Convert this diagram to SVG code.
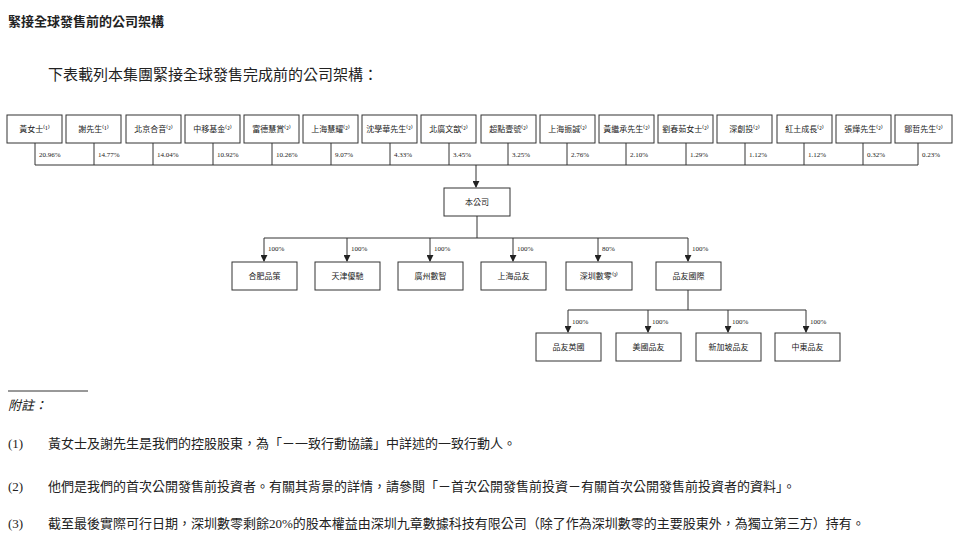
<svg xmlns="http://www.w3.org/2000/svg" width="960" height="553" viewBox="0 0 960 553">
<style>
text{font-family:"Liberation Serif","Noto Sans CJK TC",serif;fill:#222}
.b{fill:#fff;stroke:#333;stroke-width:1}
.t{font-size:8px;text-anchor:middle}
.p{font-size:7px}
.c{stroke:#333;stroke-width:1;fill:none}
.ar{stroke:#333;stroke-width:1;marker-end:url(#a)}
.n{font-size:13px}
</style>
<defs><marker id="a" viewBox="0 0 8 8" refX="7" refY="4" markerWidth="7" markerHeight="7" orient="auto"><path d="M0,0L8,4L0,8z" fill="#222"/></marker></defs>
<rect width="960" height="553" fill="#fff"/>
<text x="8" y="26" font-size="13" font-weight="bold">緊接全球發售前的公司架構</text>
<text x="48" y="80" font-size="15">下表載列本集團緊接全球發售完成前的公司架構：</text>
<g id="shareholders">
<g id="s1"><rect class="b" x="7" y="115" width="55" height="28"/><text class="t" x="34.5" y="132">黃女士⁽¹⁾</text></g>
<g id="s2"><rect class="b" x="66" y="115" width="55" height="28"/><text class="t" x="93.5" y="132">謝先生⁽¹⁾</text></g>
<g id="s3"><rect class="b" x="126" y="115" width="55" height="28"/><text class="t" x="153.5" y="132">北京合音⁽²⁾</text></g>
<g id="s4"><rect class="b" x="185" y="115" width="55" height="28"/><text class="t" x="212.5" y="132">中移基金⁽²⁾</text></g>
<g id="s5"><rect class="b" x="244" y="115" width="55" height="28"/><text class="t" x="271.5" y="132">富德慧賞⁽²⁾</text></g>
<g id="s6"><rect class="b" x="303" y="115" width="55" height="28"/><text class="t" x="330.5" y="132">上海慧耀⁽²⁾</text></g>
<g id="s7"><rect class="b" x="362" y="115" width="55" height="28"/><text class="t" x="389.5" y="132">沈學華先生⁽²⁾</text></g>
<g id="s8"><rect class="b" x="421" y="115" width="55" height="28"/><text class="t" x="448.5" y="132">北廣文歆⁽²⁾</text></g>
<g id="s9"><rect class="b" x="481" y="115" width="55" height="28"/><text class="t" x="508.5" y="132">超點壹號⁽²⁾</text></g>
<g id="s10"><rect class="b" x="540" y="115" width="55" height="28"/><text class="t" x="567.5" y="132">上海振誠⁽²⁾</text></g>
<g id="s11"><rect class="b" x="599" y="115" width="55" height="28"/><text class="t" x="626.5" y="132">黃繼承先生⁽²⁾</text></g>
<g id="s12"><rect class="b" x="658" y="115" width="55" height="28"/><text class="t" x="685.5" y="132">劉春茹女士⁽²⁾</text></g>
<g id="s13"><rect class="b" x="717" y="115" width="55" height="28"/><text class="t" x="744.5" y="132">深創投⁽²⁾</text></g>
<g id="s14"><rect class="b" x="777" y="115" width="55" height="28"/><text class="t" x="804.5" y="132">紅土成長⁽²⁾</text></g>
<g id="s15"><rect class="b" x="836" y="115" width="55" height="28"/><text class="t" x="863.5" y="132">張燁先生⁽²⁾</text></g>
<g id="s16"><rect class="b" x="895" y="115" width="57" height="28"/><text class="t" x="923.5" y="132">鄒哲先生⁽²⁾</text></g>
</g>
<g id="connectors">
<path class="c" d="M35,143V165M94,143V165M153,143V165M213,143V165M272,143V165M331,143V165M390,143V165M449,143V165M508,143V165M567,143V165M626,143V165M686,143V165M745,143V165M804,143V165M863,143V165M918,143V165M35,165H918"/>
<line class="ar" x1="476" y1="165" x2="476" y2="187"/>
<path class="c" d="M477,216V238M264,238H688"/>
<line class="ar" x1="264" y1="238" x2="264" y2="261"/>
<line class="ar" x1="347" y1="238" x2="347" y2="261"/>
<line class="ar" x1="430" y1="238" x2="430" y2="261"/>
<line class="ar" x1="513" y1="238" x2="513" y2="261"/>
<line class="ar" x1="598" y1="238" x2="598" y2="261"/>
<line class="ar" x1="688" y1="238" x2="688" y2="261"/>
<path class="c" d="M688,290V310M568,310H806"/>
<line class="ar" x1="568" y1="310" x2="568" y2="332"/>
<line class="ar" x1="648" y1="310" x2="648" y2="332"/>
<line class="ar" x1="728" y1="310" x2="728" y2="332"/>
<line class="ar" x1="806" y1="310" x2="806" y2="332"/>
</g>
<g class="p">
<text x="39" y="157">20.96%</text><text x="98" y="157">14.77%</text><text x="157" y="157">14.04%</text><text x="217" y="157">10.92%</text><text x="276" y="157">10.26%</text><text x="335" y="157">9.07%</text><text x="394" y="157">4.33%</text><text x="453" y="157">3.45%</text><text x="512" y="157">3.25%</text><text x="571" y="157">2.76%</text><text x="630" y="157">2.10%</text><text x="690" y="157">1.29%</text><text x="749" y="157">1.12%</text><text x="808" y="157">1.12%</text><text x="867" y="157">0.32%</text><text x="922" y="157">0.23%</text>
<text x="268" y="251">100%</text><text x="351" y="251">100%</text><text x="434" y="251">100%</text><text x="517" y="251">100%</text><text x="602" y="251">80%</text><text x="692" y="251">100%</text>
<text x="572" y="324">100%</text><text x="652" y="324">100%</text><text x="732" y="324">100%</text><text x="810" y="324">100%</text>
</g>
<g id="company"><rect class="b" x="444" y="188" width="66" height="28"/><text class="t" x="477" y="205">本公司</text></g>
<g id="c1"><rect class="b" x="232" y="262" width="65" height="28"/><text class="t" x="264.5" y="279">合肥品策</text></g>
<g id="c2"><rect class="b" x="315" y="262" width="65" height="28"/><text class="t" x="347.5" y="279">天津優馳</text></g>
<g id="c3"><rect class="b" x="398" y="262" width="65" height="28"/><text class="t" x="430.5" y="279">廣州數智</text></g>
<g id="c4"><rect class="b" x="481" y="262" width="65" height="28"/><text class="t" x="513.5" y="279">上海品友</text></g>
<g id="c5"><rect class="b" x="566" y="262" width="66" height="28"/><text class="t" x="599" y="279">深圳數零⁽³⁾</text></g>
<g id="c6"><rect class="b" x="656" y="262" width="65" height="28"/><text class="t" x="688.5" y="279">品友國際</text></g>
<g id="g1"><rect class="b" x="536" y="333" width="65" height="28"/><text class="t" x="568.5" y="350">品友英國</text></g>
<g id="g2"><rect class="b" x="616" y="333" width="65" height="28"/><text class="t" x="648.5" y="350">美國品友</text></g>
<g id="g3"><rect class="b" x="696" y="333" width="65" height="28"/><text class="t" x="728.5" y="350">新加坡品友</text></g>
<g id="g4"><rect class="b" x="775" y="333" width="65" height="28"/><text class="t" x="807.5" y="350">中東品友</text></g>
<line x1="8" y1="391" x2="88" y2="391" stroke="#333"/>
<text x="8" y="410" font-size="13" font-style="italic">附註：</text>
<text x="8" y="448" class="n">(1)</text><text x="48" y="448" class="n">黃女士及謝先生是我們的控股股東，為「－一致行動協議」中詳述的一致行動人。</text>
<text x="8" y="491" class="n">(2)</text><text x="48" y="491" class="n">他們是我們的首次公開發售前投資者。有關其背景的詳情，請參閱「－首次公開發售前投資－有關首次公開發售前投資者的資料」。</text>
<text x="8" y="528" class="n">(3)</text><text x="48" y="528" class="n">截至最後實際可行日期，深圳數零剩餘20%的股本權益由深圳九章數據科技有限公司（除了作為深圳數零的主要股東外，為獨立第三方）持有。</text>
</svg>
